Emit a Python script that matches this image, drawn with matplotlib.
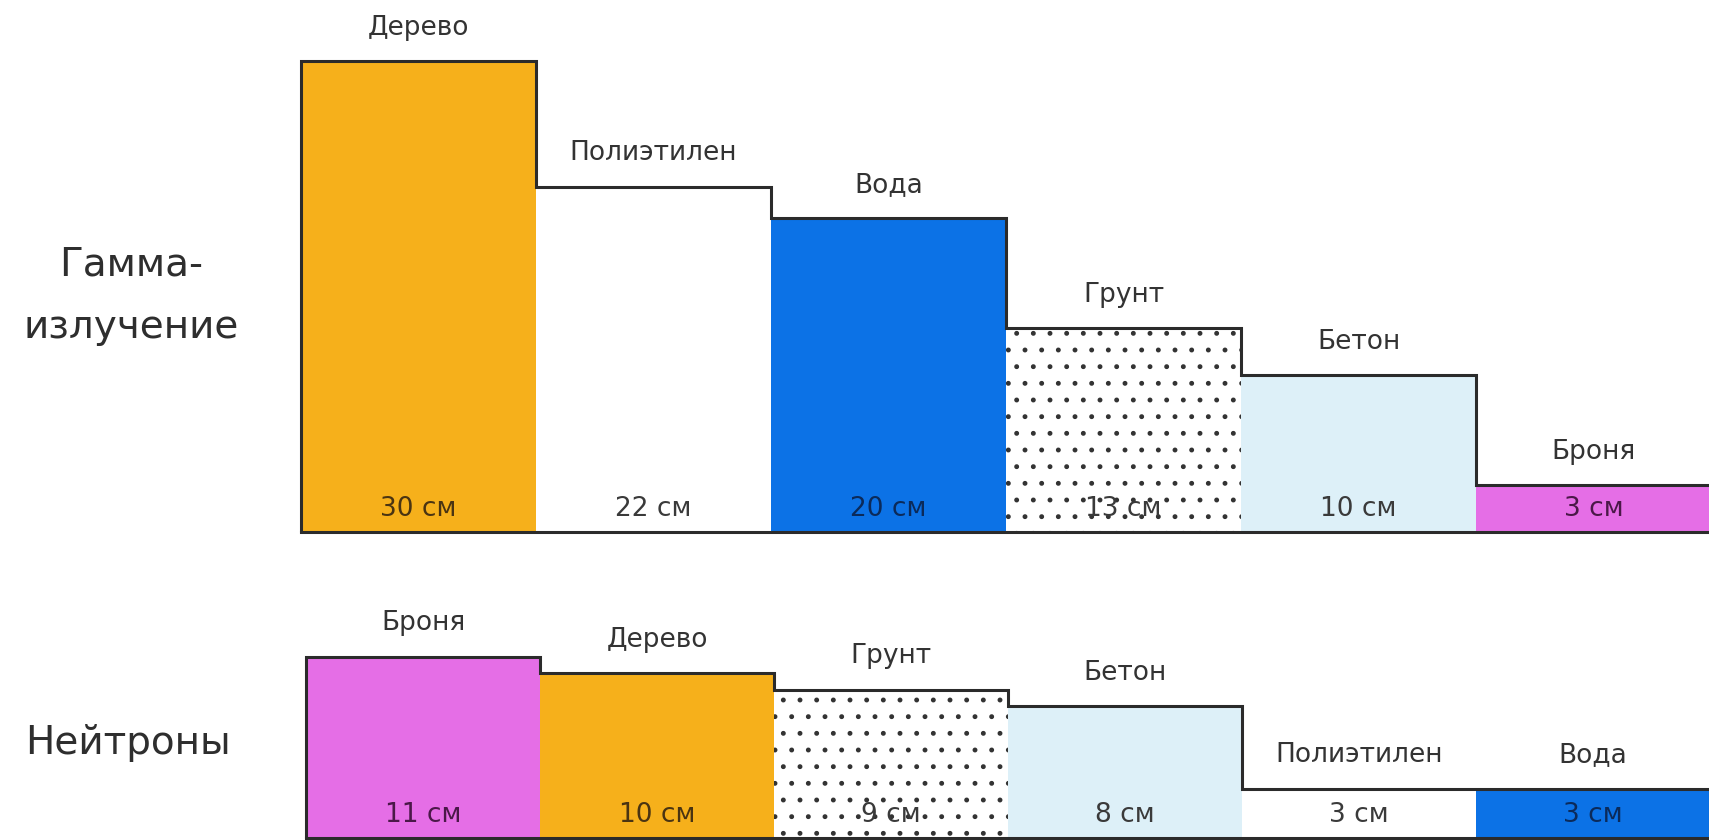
import matplotlib
matplotlib.use("Agg")
import matplotlib.pyplot as plt

# ---- data ----
gamma_materials = ["Дерево", "Полиэтилен", "Вода", "Грунт", "Бетон", "Броня"]
gamma_values = [30, 22, 20, 13, 10, 3]
neutron_materials = ["Броня", "Дерево", "Грунт", "Бетон", "Полиэтилен", "Вода"]
neutron_values = [11, 10, 9, 8, 3, 3]
row_labels = ["Гамма-\nизлучение", "Нейтроны"]
unit = "см"

# ---- styles ----
fill = {"Дерево": "#F6B01B", "Полиэтилен": "#FFFFFF", "Вода": "#0C72E6",
        "Грунт": "#FFFFFF", "Бетон": "#DDF0F8", "Броня": "#E56EE6"}
txtcol = {"Дерево": "#4A3412", "Полиэтилен": "#3A3A3A", "Вода": "#0B2A5A",
          "Грунт": "#3A3A3A", "Бетон": "#3A3A3A", "Броня": "#4A1848"}
hatch = {"Грунт": "."}
FONT = ["DejaVu Sans"]
plt.rcParams["font.family"] = FONT
plt.rcParams["hatch.linewidth"] = 1.1

W, H = 1709, 840
fig = plt.figure(figsize=(W / 100, H / 100), dpi=100)
fig.patch.set_facecolor("white")


def px_axes(left, base, barw, pxcm, ymax):
    width = 6 * barw
    height = ymax * pxcm
    return fig.add_axes([left / W, (H - base) / H, width / W, height / H])


def draw_row(ax, materials, values, ymax):
    n = len(values)
    for i, (m, v) in enumerate(zip(materials, values)):
        h = hatch.get(m)
        ax.bar(i, v, width=1.0, align="edge", color=fill[m],
               edgecolor="#333333" if h else "none",
               hatch=h, linewidth=0, zorder=1)
        ax.annotate(m, (i + 0.5, v), xytext=(0, 24), textcoords="offset points",
                    ha="center", va="center", fontsize=19, color="#333333",
                    annotation_clip=False)
        ax.annotate(f"{v} {unit}", (i + 0.5, 0), xytext=(0, 16.5),
                    textcoords="offset points", ha="center", va="center",
                    fontsize=19, color=txtcol[m], annotation_clip=False)
    edges = list(range(n + 1))
    ax.stairs(values, edges, baseline=0, fill=False, color="#2b2b2b",
              linewidth=2.2, zorder=3, clip_on=False)
    ax.axhline(0, color="#2b2b2b", linewidth=2.2, zorder=3, clip_on=False)
    ax.set_xlim(0, n)
    ax.set_ylim(0, ymax)
    ax.axis("off")


ax1 = px_axes(301, 532, 235, 15.7, 32)
draw_row(ax1, gamma_materials, gamma_values, 32)

ax2 = px_axes(306, 838, 234, 16.5, 13)
draw_row(ax2, neutron_materials, neutron_values, 13)

g1, g2 = row_labels[0].split("\n")
fig.text(131 / W, 1 - 265 / H, g1, ha="center", va="center", fontsize=28, color="#2e2e2e")
fig.text(131 / W, 1 - 327 / H, g2, ha="center", va="center", fontsize=28, color="#2e2e2e")
fig.text(128 / W, 1 - 743 / H, row_labels[1], ha="center", va="center", fontsize=28, color="#2e2e2e")

fig.savefig("out.png", dpi=100, facecolor="white")
